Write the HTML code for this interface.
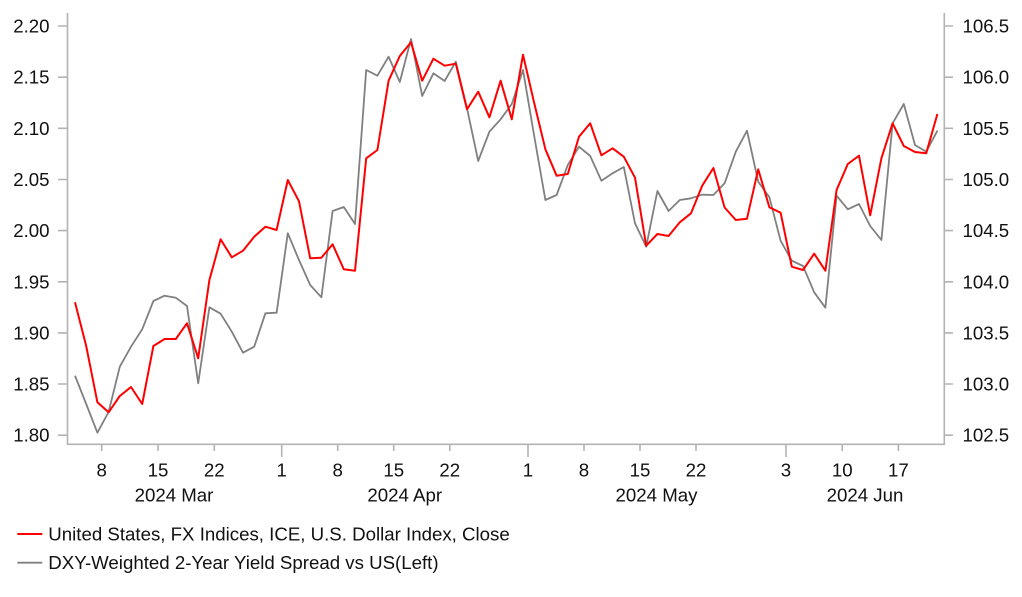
<!DOCTYPE html>
<html><head><meta charset="utf-8"><style>
html,body{margin:0;padding:0;background:#fff;}
svg{display:block;}
text{font-family:"Liberation Sans",Arial,sans-serif;fill:#111;}
</style></head><body>
<svg width="1022" height="597" viewBox="0 0 1022 597" xmlns="http://www.w3.org/2000/svg">
<g stroke="#b3b3b3" stroke-width="1.6" fill="none">
<path d="M67.5 13 V444.3 H944.3 V13"/>
<path d="M58 26 H67.5 M58 77.2 H67.5 M58 128.3 H67.5 M58 179.5 H67.5 M58 230.6 H67.5 M58 281.8 H67.5 M58 332.9 H67.5 M58 384 H67.5 M58 435.2 H67.5"/>
<path d="M944.3 26 H953 M944.3 77.2 H953 M944.3 128.3 H953 M944.3 179.5 H953 M944.3 230.6 H953 M944.3 281.8 H953 M944.3 332.9 H953 M944.3 384 H953 M944.3 435.2 H953"/>
<path d="M101.7 444.3 V451 M158 444.3 V451 M214.3 444.3 V451 M281.7 444.3 V457 M337.7 444.3 V451 M393.7 444.3 V451 M449.8 444.3 V451 M528 444.3 V457 M584 444.3 V451 M640 444.3 V451 M696 444.3 V451 M786 444.3 V457 M842.2 444.3 V451 M898.4 444.3 V451"/>
</g>
<g font-size="18.67" text-anchor="end">
<text x="49.5" y="32.5">2.20</text>
<text x="49.5" y="83.7">2.15</text>
<text x="49.5" y="134.8">2.10</text>
<text x="49.5" y="186">2.05</text>
<text x="49.5" y="237.1">2.00</text>
<text x="49.5" y="288.3">1.95</text>
<text x="49.5" y="339.4">1.90</text>
<text x="49.5" y="390.5">1.85</text>
<text x="49.5" y="441.7">1.80</text>
</g>
<g font-size="18.67" text-anchor="start">
<text x="962.5" y="32.5">106.5</text>
<text x="962.5" y="83.7">106.0</text>
<text x="962.5" y="134.8">105.5</text>
<text x="962.5" y="186">105.0</text>
<text x="962.5" y="237.1">104.5</text>
<text x="962.5" y="288.3">104.0</text>
<text x="962.5" y="339.4">103.5</text>
<text x="962.5" y="390.5">103.0</text>
<text x="962.5" y="441.7">102.5</text>
</g>
<g font-size="18.67" text-anchor="middle">
<text x="101.7" y="476.3">8</text>
<text x="158" y="476.3">15</text>
<text x="214.3" y="476.3">22</text>
<text x="281.7" y="476.3">1</text>
<text x="337.7" y="476.3">8</text>
<text x="393.7" y="476.3">15</text>
<text x="449.8" y="476.3">22</text>
<text x="528" y="476.3">1</text>
<text x="584" y="476.3">8</text>
<text x="640" y="476.3">15</text>
<text x="696" y="476.3">22</text>
<text x="786" y="476.3">3</text>
<text x="842.2" y="476.3">10</text>
<text x="898.4" y="476.3">17</text>
<text x="174" y="501.3">2024 Mar</text>
<text x="404.7" y="501.3">2024 Apr</text>
<text x="656.5" y="501.3">2024 May</text>
<text x="865" y="501.3">2024 Jun</text>
</g>
<polyline fill="none" stroke="#808080" stroke-width="1.8" stroke-linejoin="round" points="75,375.7 86.2,404 97.4,432.7 108.6,412 119.8,366.7 131,346.7 142.2,329.3 153.4,301 164.6,295.7 175.8,297.7 187,306 198.2,383.3 209.4,307.3 220.6,313.7 231.8,331.7 243,352.7 254.2,346.7 265.4,313.3 276.6,312.7 287.8,233.3 299,260 310.2,285 321.4,297.3 332.6,211 343.8,207 355,224 366.2,70 377.4,75.7 388.6,56.7 399.8,82 411,39 422.2,96 433.4,73.3 444.6,81 455.8,61.7 467,108.3 478.2,161 489.4,131.7 500.6,119.3 511.8,104 523,70 534.2,136 545.4,200 556.6,195 567.8,165 579,146.7 590.2,156 601.4,180.7 612.6,173.3 623.8,167 635,223.3 646.2,246.7 657.4,191 668.6,211 679.8,200 691,198.3 702.2,194.7 713.4,195 724.6,183.3 735.8,151.7 747,130.7 758.2,181.7 769.4,197.3 780.6,240.7 791.8,260.7 803,266 814.2,292.3 825.4,307.7 836.6,195.7 847.8,209.3 859,204 870.2,226 881.4,240 892.6,123.3 903.8,104 915,145 926.2,151.7 937.4,130.7"/>
<polyline fill="none" stroke="#ff0000" stroke-width="2" stroke-linejoin="round" points="75,302.3 86.2,346 97.4,402.3 108.6,412.3 119.8,396 131,387 142.2,404 153.4,346 164.6,339 175.8,339 187,323.3 198.2,358.3 209.4,280 220.6,239.3 231.8,257.3 243,250.7 254.2,236.7 265.4,226.7 276.6,230 287.8,180 299,201.3 310.2,258.3 321.4,257.7 332.6,244.3 343.8,269.3 355,270.7 366.2,158.3 377.4,150 388.6,80.7 399.8,56 411,42.3 422.2,80.7 433.4,58.7 444.6,65.7 455.8,63.7 467,109.3 478.2,91.7 489.4,117.3 500.6,80.7 511.8,119.3 523,54.7 534.2,103 545.4,149.3 556.6,175.7 567.8,174 579,136.7 590.2,123.3 601.4,155.3 612.6,148.3 623.8,156.7 635,177.7 646.2,245.7 657.4,234 668.6,236 679.8,222.3 691,213.3 702.2,185.7 713.4,168 724.6,207.5 735.8,220 747,218.7 758.2,169.3 769.4,207.3 780.6,212.7 791.8,266.7 803,270 814.2,253.7 825.4,270.7 836.6,190 847.8,164 859,155.7 870.2,215.3 881.4,158.3 892.6,123.3 903.8,146 915,152 926.2,153.3 937.4,114"/>
<line x1="17.3" y1="534" x2="42.3" y2="534" stroke="#ff0000" stroke-width="2"/>
<line x1="17.3" y1="562.7" x2="42.3" y2="562.7" stroke="#808080" stroke-width="1.8"/>
<text x="48.3" y="540.3" font-size="18.67">United States, FX Indices, ICE, U.S. Dollar Index, Close</text>
<text x="48.3" y="569.2" font-size="18.67">DXY-Weighted 2-Year Yield Spread vs US(Left)</text>
</svg>
</body></html>
